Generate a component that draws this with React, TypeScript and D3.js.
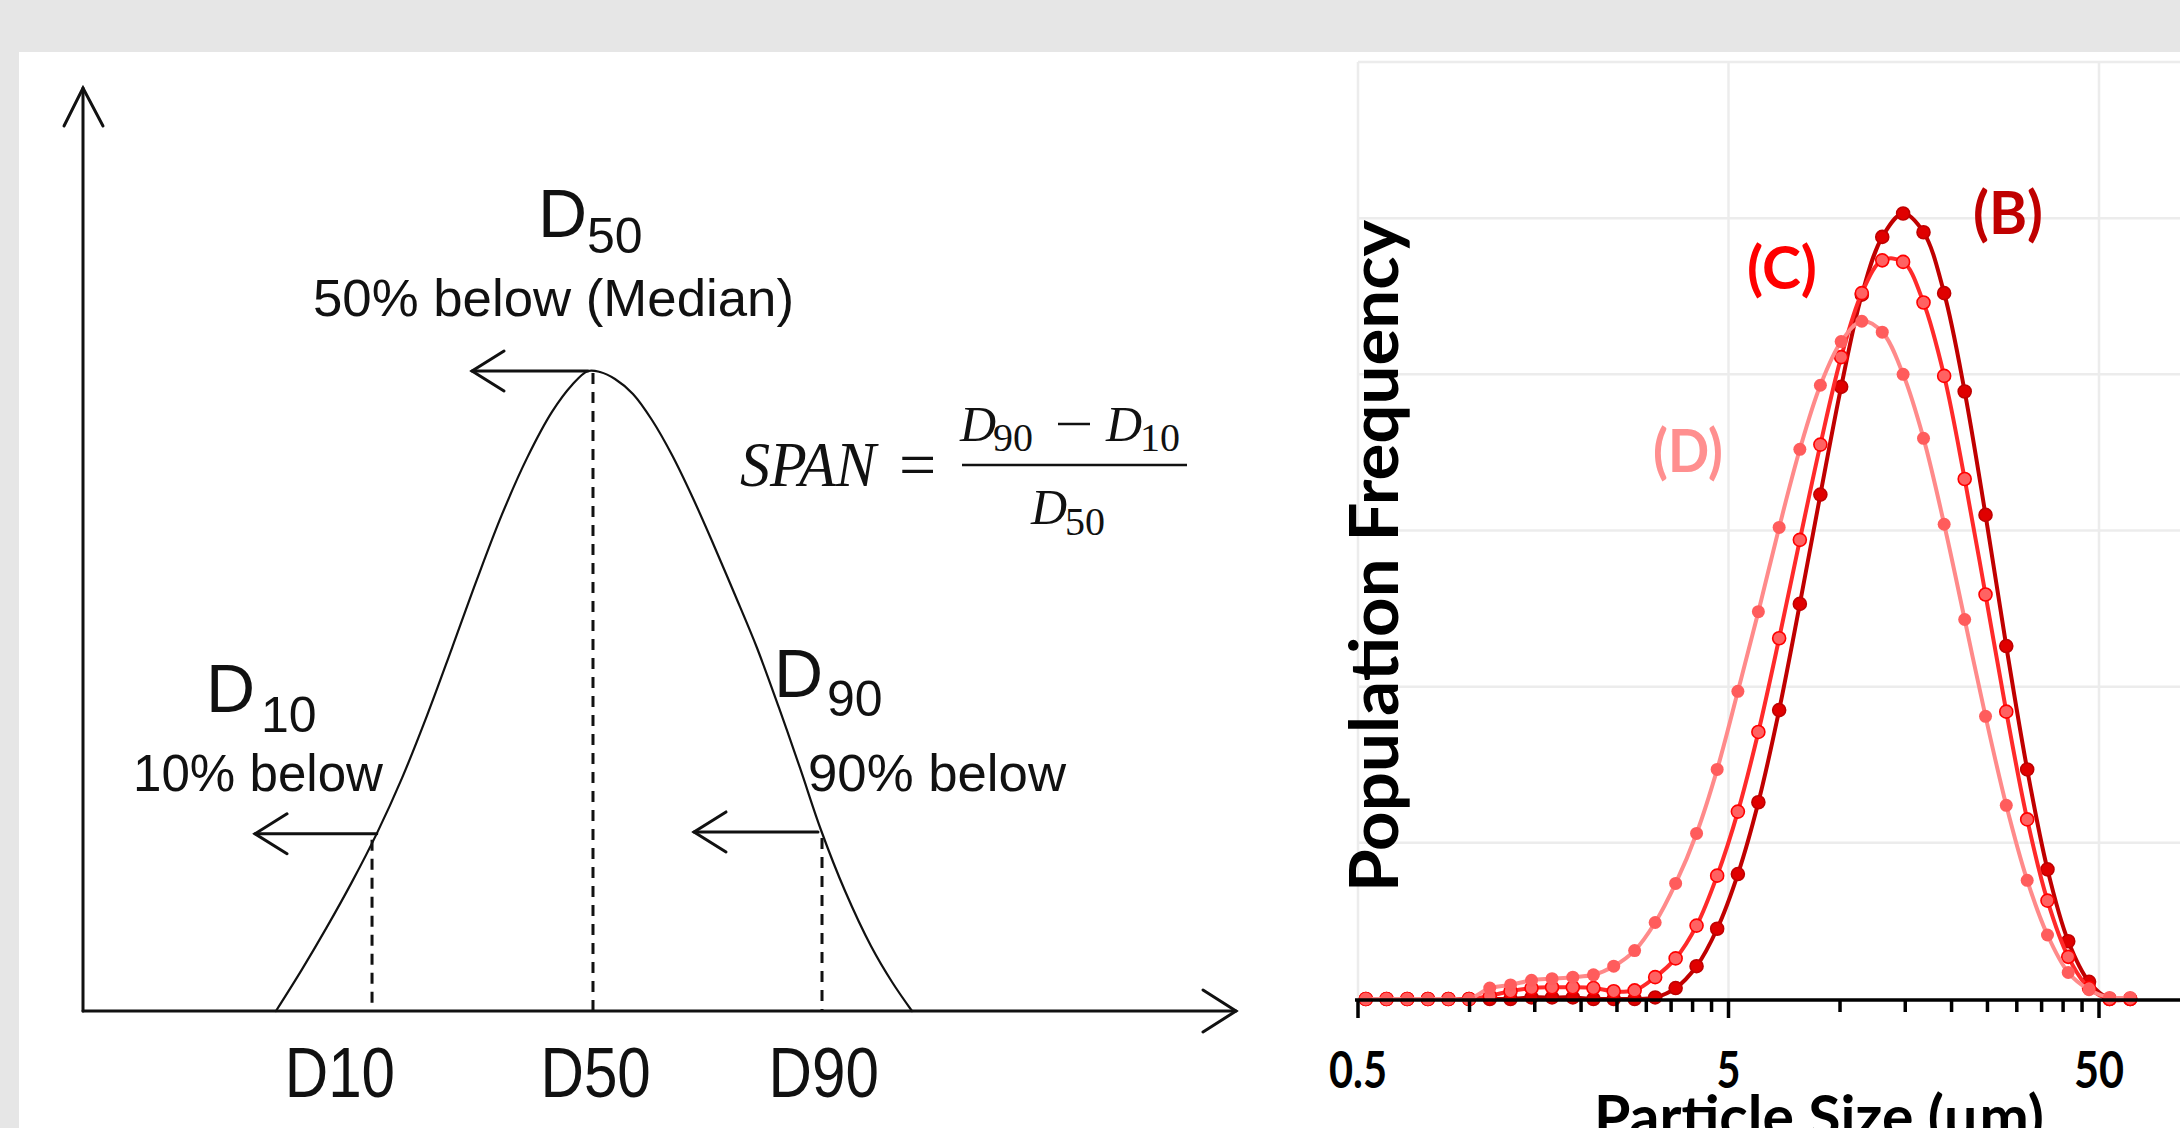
import React, { useEffect } from 'react';
import * as d3 from 'd3';

const W = 2180;
const H = 1128;

// ---- left schematic (arbitrary units 0..100 on both axes) ----
const bellX = [16.75, 19.01, 21.18, 23.35, 25.52, 27.69, 29.86, 32.03, 34.2, 36.37, 38.54, 40.71, 42.45, 43.84, 44.88, 46.18, 47.74, 49.39, 51.13, 52.86, 54.6, 56.6, 58.51, 60.42, 62.24, 64.06, 66.15, 68.4, 70.23, 71.96];
const bellY = [0, 4.51, 9.11, 13.99, 19.27, 25.23, 32.0, 39.32, 46.76, 53.8, 59.9, 64.91, 67.83, 69.34, 69.23, 68.47, 66.85, 64.03, 60.24, 55.8, 50.92, 45.07, 39.33, 32.83, 26.33, 19.61, 13.0, 7.04, 3.14, 0];

const pctNames = ['D10', 'D50', 'D90'];
const pctCurveX = [25.5, 43.84, 63.8];
const pctCurveY = [19.2, 69.34, 19.4];
const pctDashX = [25.09, 44.27, 64.15];
const pctArrowTip = [14.93, 33.77, 53.04];
const pctLabelX = [22.3, 44.5, 64.3];

// ---- right chart: particle size distributions ----
const sizes = [0.525, 0.597, 0.679, 0.772, 0.877, 0.997, 1.134, 1.29, 1.47, 1.67, 1.9, 2.16, 2.45, 2.79, 3.17, 3.6, 4.1, 4.66, 5.3, 6.02, 6.85, 7.79, 8.85, 10.07, 11.45, 13.0, 14.8, 16.8, 19.1, 21.7, 24.7, 28.1, 32.0, 36.3, 41.3, 47.0, 53.4, 60.7];
const freqB = [0, 0, 0, 0, 0, 0, 0, 0, 0.01, 0.01, 0.01, 0, 0, 0, 0.01, 0.07, 0.21, 0.45, 0.8, 1.26, 1.85, 2.53, 3.23, 3.92, 4.51, 4.88, 5.03, 4.91, 4.52, 3.89, 3.1, 2.26, 1.47, 0.83, 0.37, 0.11, 0, 0];
const freqC = [0, 0, 0, 0, 0, 0, 0.02, 0.05, 0.07, 0.075, 0.075, 0.07, 0.05, 0.055, 0.14, 0.26, 0.47, 0.79, 1.2, 1.71, 2.31, 2.94, 3.55, 4.11, 4.52, 4.73, 4.72, 4.46, 3.99, 3.33, 2.59, 1.84, 1.15, 0.63, 0.27, 0.07, 0, 0];
const freqD = [0, 0, 0, 0, 0, 0, 0.07, 0.09, 0.12, 0.13, 0.14, 0.155, 0.21, 0.31, 0.49, 0.74, 1.06, 1.47, 1.97, 2.48, 3.02, 3.52, 3.93, 4.21, 4.34, 4.27, 4.0, 3.59, 3.04, 2.43, 1.81, 1.24, 0.76, 0.41, 0.17, 0.06, 0.01, 0.01];

const seriesNames = ['(B)', '(C)', '(D)'];
const majorTicks = [0.5, 5, 50];
const majorLabelWidth = [58, 24, 50];
const minorTicks = [1, 1.5, 2, 2.5, 3, 3.5, 4, 4.5, 10, 15, 20, 25, 30, 35, 40, 45];
const yGrid = [1, 2, 3, 4, 5, 6];

const SANS = 'Liberation Sans, Arial, sans-serif';
const SERIF = 'Liberation Serif, Times New Roman, serif';
const BOLD = 'Lato, Open Sans, sans-serif';

const App = () => {
  useEffect(() => {
    document.body.style.margin = '0';
    document.body.style.overflow = 'hidden';
  }, []);

  // left scales
  const xL = d3.scaleLinear().domain([0, 100]).range([83, 1235]);
  const yL = d3.scaleLinear().domain([0, 100]).range([1011, 88]);
  const bellLine = d3.line<number>()
    .x((d, i) => xL(bellX[i]))
    .y((d) => yL(d))
    .curve(d3.curveCatmullRom);

  // right scales
  const x = d3.scaleLog().domain([0.5, 50]).range([1358, 2099]);
  const y = d3.scaleLinear().domain([0, 6]).range([999, 62]);
  const line = d3.line<number>()
    .x((d, i) => x(sizes[i]))
    .y((d) => y(d))
    .curve(d3.curveCatmullRom.alpha(0.5));

  const series = [
    { name: seriesNames[0], values: freqB, line: '#c00000', fill: '#e00000', stroke: '#c00000', label: '#c00000', lx: 2008, ly: 234 },
    { name: seriesNames[1], values: freqC, line: '#ff2a2a', fill: '#ff6262', stroke: '#ff0000', label: '#ff0000', lx: 1782, ly: 289 },
    { name: seriesNames[2], values: freqD, line: '#ff8a8a', fill: '#ff5c5c', stroke: 'none', label: '#ff8f8f', lx: 1688, ly: 472 },
  ];

  const chevron = (tx: number, ty: number, dir: number, back: number, half: number) =>
    `M${tx + dir * back},${ty - half}L${tx},${ty}L${tx + dir * back},${ty + half}`;

  return (
    <svg width={W} height={H} style={{ position: 'absolute', left: 0, top: 0, display: 'block' }}>
      <rect x={0} y={0} width={W} height={H} fill="#e6e6e6" />
      <rect x={19} y={52} width={W - 19} height={H - 52} fill="#ffffff" />

      {/* ---------- left schematic ---------- */}
      <g stroke="#111" fill="none" strokeLinecap="round">
        <line x1={xL(0)} y1={yL(0)} x2={xL(0)} y2={yL(100)} strokeWidth={3} />
        <path d={`M${xL(0) - 19},${yL(100) + 38}L${xL(0)},${yL(100)}L${xL(0) + 20},${yL(100) + 38}`} strokeWidth={3} />
        <line x1={xL(0)} y1={yL(0)} x2={xL(100) + 1} y2={yL(0)} strokeWidth={3} />
        <path d={chevron(xL(100) + 1, yL(0), -1, 33, 21)} strokeWidth={3} />
        <path d={bellLine(bellY) || ''} strokeWidth={2.2} />
        {pctNames.map((n, i) => (
          <g key={n}>
            <line x1={xL(pctCurveX[i])} y1={yL(pctCurveY[i])} x2={xL(pctArrowTip[i])} y2={yL(pctCurveY[i])} strokeWidth={3} />
            <path d={chevron(xL(pctArrowTip[i]), yL(pctCurveY[i]), 1, 32, 20)} strokeWidth={3} />
            <line x1={xL(pctDashX[i])} y1={yL(pctCurveY[i]) + (i === 1 ? 2 : 6)} x2={xL(pctDashX[i])} y2={yL(0)} strokeWidth={3} strokeDasharray="11 8" strokeLinecap="butt" />
          </g>
        ))}
      </g>
      <g fill="#111" fontFamily={SANS}>
        {pctNames.map((n, i) => (
          <text key={n} x={xL(pctLabelX[i])} y={1097} fontSize={70} textAnchor="middle" transform={`translate(${xL(pctLabelX[i])},0) scale(0.86,1) translate(${-xL(pctLabelX[i])},0)`}>{n}</text>
        ))}
        <text x={538} y={237} fontSize={68}>D</text>
        <text x={587} y={253} fontSize={50}>50</text>
        <text x={313} y={316} fontSize={52} textLength={481} lengthAdjust="spacingAndGlyphs">50% below (Median)</text>
        <text x={206} y={712} fontSize={68}>D</text>
        <text x={261} y={732} fontSize={50}>10</text>
        <text x={133} y={791} fontSize={52} textLength={250} lengthAdjust="spacingAndGlyphs">10% below</text>
        <text x={774} y={697} fontSize={68}>D</text>
        <text x={827} y={716} fontSize={50}>90</text>
        <text x={808} y={791} fontSize={52} textLength={258} lengthAdjust="spacingAndGlyphs">90% below</text>
      </g>
      <g fill="#111" fontFamily={SERIF}>
        <text x={740} y={486} fontSize={64} fontStyle="italic" textLength={136} lengthAdjust="spacingAndGlyphs">SPAN</text>
        <text x={899} y={487} fontSize={66}>=</text>
        <line x1={962} y1={465} x2={1187} y2={465} stroke="#111" strokeWidth={2.5} />
        <text x={960} y={441} fontSize={50} fontStyle="italic">D</text>
        <text x={993} y={451} fontSize={40}>90</text>
        <line x1={1058} y1={424} x2={1090} y2={424} stroke="#111" strokeWidth={2.5} />
        <text x={1106} y={441} fontSize={50} fontStyle="italic">D</text>
        <text x={1140} y={451} fontSize={40}>10</text>
        <text x={1031} y={524} fontSize={50} fontStyle="italic">D</text>
        <text x={1065} y={535} fontSize={40}>50</text>
      </g>

      {/* ---------- right chart ---------- */}
      <g stroke="#ececec" strokeWidth={2.5}>
        {yGrid.map((v) => (
          <line key={v} x1={x(0.5)} x2={W} y1={y(v)} y2={y(v)} />
        ))}
        {majorTicks.map((v) => (
          <line key={v} x1={x(v)} x2={x(v)} y1={y(6)} y2={y(0)} />
        ))}
      </g>

      {series.map((s) => (
        <g key={s.name}>
          <path d={line(s.values) || ''} fill="none" stroke={s.line} strokeWidth={4} />
          {s.values.map((v, i) => (
            <circle key={i} cx={x(sizes[i])} cy={y(v)} r={6.5} fill={s.fill} stroke={s.stroke} strokeWidth={1.6} />
          ))}
        </g>
      ))}

      <g stroke="#000" strokeWidth={3.5}>
        <line x1={x(0.5) - 3} x2={W} y1={y(0) + 1} y2={y(0) + 1} />
        {majorTicks.map((v) => (
          <line key={v} x1={x(v)} x2={x(v)} y1={y(0)} y2={y(0) + 19} />
        ))}
        {minorTicks.map((v) => (
          <line key={v} x1={x(v)} x2={x(v)} y1={y(0)} y2={y(0) + 13} />
        ))}
      </g>
      <g fontFamily={BOLD} fontWeight={700} fill="#000">
        {majorTicks.map((v, i) => (
          <text key={v} x={x(v)} y={1088} fontSize={52} textAnchor="middle" textLength={majorLabelWidth[i]} lengthAdjust="spacingAndGlyphs">{String(v)}</text>
        ))}
        <text x={1819} y={1138} fontSize={60} textAnchor="middle" textLength={450} lengthAdjust="spacingAndGlyphs">Particle Size (μm)</text>
        <text transform="translate(1398,556) rotate(-90)" fontSize={66} textAnchor="middle" textLength={672} lengthAdjust="spacingAndGlyphs">Population Frequency</text>
        {series.map((s) => (
          <text key={s.name} x={s.lx} y={s.ly} fontSize={60} textAnchor="middle" fill={s.label} textLength={70} lengthAdjust="spacingAndGlyphs">{s.name}</text>
        ))}
      </g>
    </svg>
  );
};

export default App;
